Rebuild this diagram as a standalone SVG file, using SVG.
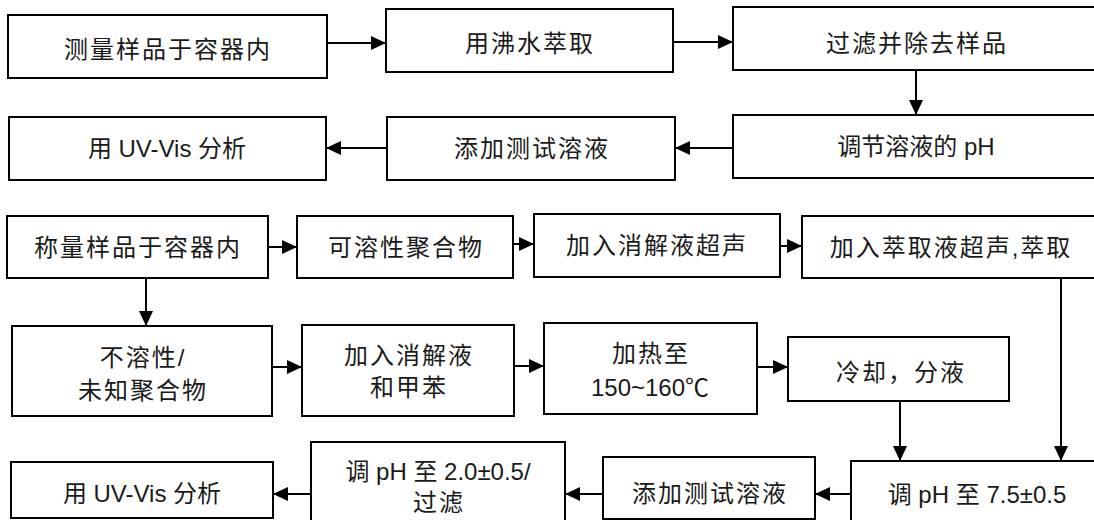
<svg xmlns="http://www.w3.org/2000/svg" width="1094" height="520" viewBox="0 0 1094 520">
<defs>
<style>
rect{fill:#fff;stroke:#000;stroke-width:2}
text{font-family:"Liberation Sans","Noto Sans CJK SC",sans-serif;font-size:24px;fill:#1a1a1a;text-anchor:middle;dominant-baseline:central}
.c{letter-spacing:2px}
#edges line{stroke:#000;stroke-width:2;marker-end:url(#ah)}
</style>
<marker id="ah" markerUnits="userSpaceOnUse" markerWidth="16" markerHeight="16" refX="15" refY="8" orient="auto">
<path d="M0,1 L15,8 L0,15 z" fill="#000"/>
</marker>
</defs>
<rect x="0" y="0" width="1094" height="520" style="fill:#fff;stroke:none"/>

<g id="n1"><rect x="8" y="15" width="319" height="63"/><text class="c" x="168" y="49">测量样品于容器内</text></g>
<g id="n2"><rect x="386" y="9" width="287" height="63"/><text class="c" x="530" y="43">用沸水萃取</text></g>
<g id="n3"><rect x="733" y="7" width="370" height="63"/><text class="c" x="917" y="43">过滤并除去样品</text></g>
<g id="n4"><rect x="9" y="117" width="317" height="63"/><text x="167" y="148">用 UV-Vis 分析</text></g>
<g id="n5"><rect x="387" y="117" width="288" height="63"/><text class="c" x="532" y="148">添加测试溶液</text></g>
<g id="n6"><rect x="733" y="115" width="370" height="63"/><text x="916" y="146">调节溶液的 pH</text></g>

<g id="m1"><rect x="7" y="216" width="261" height="62"/><text class="c" x="138" y="247">称量样品于容器内</text></g>
<g id="m2"><rect x="297" y="216" width="216" height="62"/><text class="c" x="406" y="247">可溶性聚合物</text></g>
<g id="m3"><rect x="534" y="214" width="246" height="63"/><text class="c" x="657" y="245">加入消解液超声</text></g>
<g id="m4"><rect x="802" y="216" width="300" height="62"/><text class="c" x="951" y="247">加入萃取液超声,萃取</text></g>

<g id="p1"><rect x="12" y="326" width="260" height="90"/><text class="c" x="143" y="357">不溶性/</text><text class="c" x="143" y="390">未知聚合物</text></g>
<g id="p2"><rect x="302" y="325" width="212" height="91"/><text class="c" x="409" y="355">加入消解液</text><text class="c" x="409" y="387">和甲苯</text></g>
<g id="p3"><rect x="544" y="323" width="213" height="91"/><text class="c" x="651" y="353">加热至</text><text x="650" y="387">150~160℃</text></g>
<g id="p4"><rect x="788" y="337" width="221" height="64"/><text class="c" x="901" y="372">冷却，分液</text></g>

<g id="q1"><rect x="851" y="461" width="260" height="70"/><text x="977" y="494">调 pH 至 7.5±0.5</text></g>
<g id="q2"><rect x="603" y="457" width="212" height="62"/><text class="c" x="710" y="493">添加测试溶液</text></g>
<g id="q3"><rect x="311" y="442" width="254" height="90"/><text x="438" y="471">调 pH 至 2.0±0.5/</text><text class="c" x="439" y="502">过滤</text></g>
<g id="q4"><rect x="11" y="462" width="262" height="56"/><text x="142" y="493">用 UV-Vis 分析</text></g>

<g id="edges">
<line x1="327" y1="43" x2="386" y2="43"/>
<line x1="673" y1="42" x2="733" y2="42"/>
<line x1="916" y1="70" x2="916" y2="115"/>
<line x1="733" y1="148" x2="675" y2="148"/>
<line x1="387" y1="148" x2="326" y2="148"/>
<line x1="268" y1="247" x2="297" y2="247"/>
<line x1="513" y1="244" x2="534" y2="244"/>
<line x1="780" y1="246" x2="802" y2="246"/>
<line x1="146" y1="278" x2="146" y2="326"/>
<line x1="1061" y1="278" x2="1061" y2="461"/>
<line x1="272" y1="367" x2="302" y2="367"/>
<line x1="514" y1="366" x2="544" y2="366"/>
<line x1="757" y1="367" x2="788" y2="367"/>
<line x1="900" y1="401" x2="900" y2="461"/>
<line x1="851" y1="494" x2="815" y2="494"/>
<line x1="603" y1="494" x2="565" y2="494"/>
<line x1="311" y1="494" x2="273" y2="494"/>
</g>
</svg>
